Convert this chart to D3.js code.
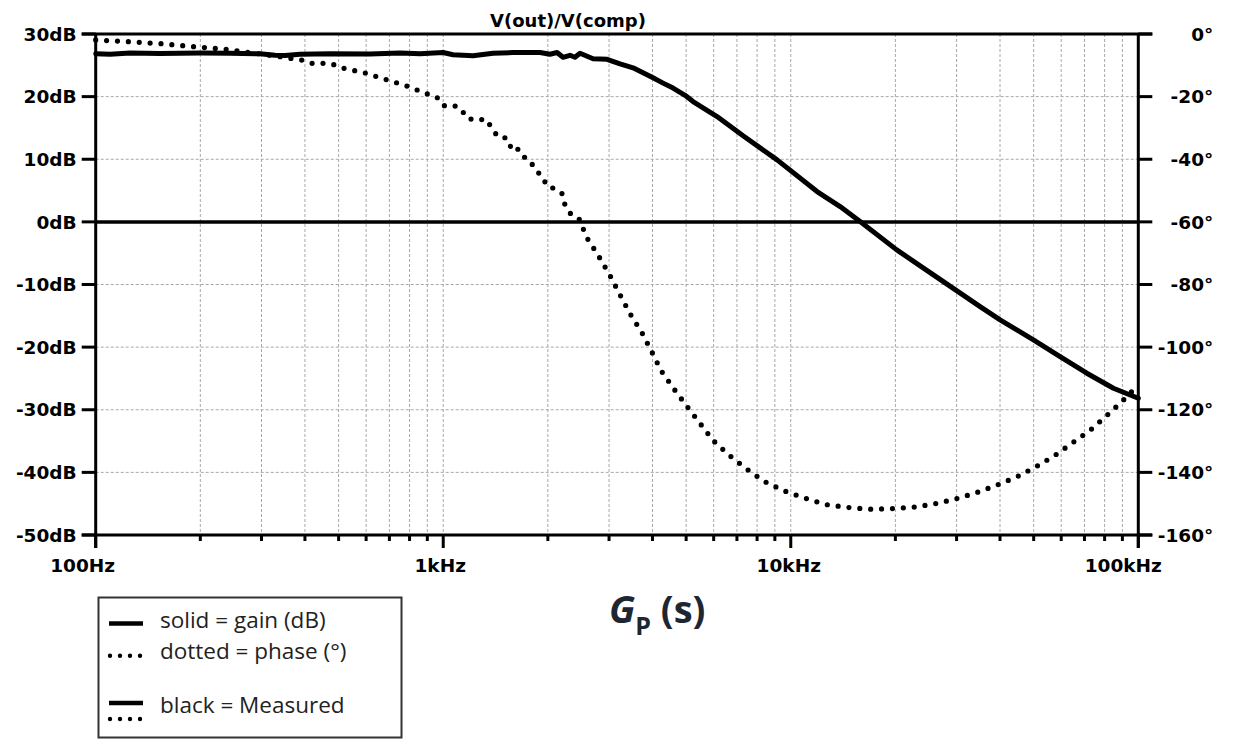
<!DOCTYPE html>
<html>
<head>
<meta charset="utf-8">
<script src="https://cdn.jsdelivr.net/npm/d3@7"></script>
<style>
  html, body { margin: 0; padding: 0; background: #fff; }
  svg { display: block; }
</style>
</head>
<body>
<svg id="chart" width="1234" height="748"></svg>
<script>
// Measured Bode response of Gp(s) = V(out)/V(comp)
const gainFreq = [100, 110, 125.5, 153.2, 199.6, 243.5, 297.1, 328.1, 350.6, 387.1, 472.4, 615.7, 751, 857.7, 998.7, 1067, 1218, 1391, 1588, 1899, 2029, 2126, 2211, 2316, 2394, 2475, 2698, 2961, 3226, 3517, 4015, 4291, 4585, 4964, 5234, 6136, 7290, 9134, 11905, 13870, 15830, 20180, 25730, 35060, 40030, 49910, 59550, 71100, 84800, 100000];
const gainDb = [26.84, 26.76, 26.95, 26.88, 26.95, 26.92, 26.84, 26.6, 26.57, 26.76, 26.84, 26.79, 26.95, 26.84, 27.04, 26.68, 26.52, 26.92, 27.04, 27.04, 26.76, 27.04, 26.28, 26.6, 26.28, 26.92, 26.04, 25.96, 25.24, 24.6, 23.0, 22.16, 21.36, 20.21, 19.22, 16.82, 13.74, 9.9, 4.84, 2.44, 0.05, -4.47, -8.47, -13.53, -15.65, -18.85, -21.52, -24.17, -26.57, -28.16];

const phaseFreq = [100, 124.5, 154.2, 191.4, 237.6, 339.2, 390.6, 419.4, 451, 485.1, 517.2, 592.9, 681.5, 781.6, 896.7, 957.8, 1003, 1069, 1125, 1168, 1241, 1326, 1379, 1435, 1523, 1567, 1620, 1674, 1774, 1837, 1929, 1990, 2112, 2198, 2237, 2321, 2454, 2593, 2803, 3014, 3221, 3448, 3726, 3981, 4242, 4615, 5020, 5483, 5988, 6657, 7451, 8380, 9548, 10973, 12610, 14500, 16800, 19400, 22440, 25850, 29770, 34150, 39150, 44720, 50800, 57500, 64800, 72800, 81200, 90250, 100000];
const phaseDeg = [-1.9, -2.46, -3.1, -4.06, -4.89, -7.25, -8.3, -9.36, -9.36, -9.8, -10.95, -12.36, -14.47, -16.51, -19.07, -20.12, -22.9, -22.77, -23.86, -26.83, -27.56, -27.15, -29.93, -32.8, -33.22, -36.31, -35.68, -38.74, -40.24, -43.21, -45.58, -48.64, -49.5, -51.0, -54.3, -57.27, -58.77, -65.15, -71.0, -76.97, -83.14, -89.33, -95.27, -101.47, -107.63, -113.38, -118.81, -124.34, -129.89, -134.56, -138.84, -142.86, -145.86, -148.2, -150.27, -151.17, -151.77, -151.6, -151.17, -150.1, -148.5, -146.5, -144.1, -141.4, -138.2, -134.6, -130.5, -126.5, -121.8, -117.1, -112.1];

const gainTicks = [30, 20, 10, 0, -10, -20, -30, -40, -50];
const gainTickLabels = ["30dB", "20dB", "10dB", "0dB", "-10dB", "-20dB", "-30dB", "-40dB", "-50dB"];
const phaseTicks = [0, -20, -40, -60, -80, -100, -120, -140, -160];
const phaseTickLabels = ["0°", "-20°", "-40°", "-60°", "-80°", "-100°", "-120°", "-140°", "-160°"];
const freqTicks = [100, 1000, 10000, 100000];
const freqTickLabels = ["100Hz", "1kHz", "10kHz", "100kHz"];
const freqLabelShift = [-13, -3, -2, -15];

const legendItems = ["solid = gain (dB)", "dotted = phase (°)", "black = Measured"];

const svg = d3.select("#chart");
const plotLeft = 95.7, plotRight = 1138.3, plotTop = 34, plotBottom = 535;

const x = d3.scaleLog().domain([100, 100000]).range([plotLeft, plotRight]);
const yG = d3.scaleLinear().domain([-50, 30]).range([plotBottom, plotTop]);
const yP = d3.scaleLinear().domain([-160, 0]).range([plotBottom, plotTop]);

const labelFont = "'DejaVu Sans', sans-serif";

// minor grid (every 1..9 per decade) and dB grid
const minorFreqs = [];
for (let dec = 100; dec < 100000; dec *= 10) {
  for (let m = 1; m <= 9; m++) minorFreqs.push(dec * m);
}
const grid = svg.append("g").attr("stroke", "#a8a8a8").attr("stroke-width", 1)
  .attr("stroke-dasharray", "3,2").attr("fill", "none");
grid.selectAll("line.v").data(minorFreqs.filter(f => f > 100)).join("line")
  .attr("x1", d => x(d)).attr("x2", d => x(d)).attr("y1", plotTop).attr("y2", plotBottom);
grid.selectAll("line.h").data(gainTicks.filter(d => d < 30 && d > -50 && d !== 0)).join("line")
  .attr("x1", plotLeft).attr("x2", plotRight).attr("y1", d => yG(d)).attr("y2", d => yG(d));

// frame
const frame = svg.append("g").attr("stroke", "#000").attr("stroke-width", 3).attr("fill", "none");
frame.append("line").attr("x1", plotLeft - 14).attr("x2", plotRight + 14).attr("y1", plotTop).attr("y2", plotTop);
frame.append("line").attr("x1", plotLeft - 14).attr("x2", plotRight + 14).attr("y1", plotBottom).attr("y2", plotBottom);
frame.append("line").attr("x1", plotLeft).attr("x2", plotLeft).attr("y1", plotTop).attr("y2", plotBottom + 13);
frame.append("line").attr("x1", plotRight).attr("x2", plotRight).attr("y1", plotTop).attr("y2", plotBottom + 13);

// axis ticks
const axisG = svg.append("g").attr("stroke", "#000").attr("stroke-width", 3);
axisG.selectAll("line.l").data(gainTicks).join("line")
  .attr("x1", plotLeft - 14).attr("x2", plotLeft).attr("y1", d => yG(d)).attr("y2", d => yG(d));
axisG.selectAll("line.r").data(phaseTicks).join("line")
  .attr("x1", plotRight).attr("x2", plotRight + 14).attr("y1", d => yP(d)).attr("y2", d => yP(d));
axisG.selectAll("line.b").data(minorFreqs.concat([100000])).join("line")
  .attr("x1", d => x(d)).attr("x2", d => x(d)).attr("y1", plotBottom)
  .attr("y2", d => (Math.abs(Math.log10(d) % 1) < 1e-9 ? plotBottom + 13 : plotBottom + 6));

// tick labels
const tl = svg.append("g").attr("font-family", labelFont).attr("font-weight", "bold")
  .attr("font-size", 18.5).attr("fill", "#000");
tl.selectAll("text.l").data(gainTicks).join("text")
  .attr("x", plotLeft - 19).attr("y", d => yG(d)).attr("dy", "0.36em")
  .attr("text-anchor", "end").text((d, i) => gainTickLabels[i]);
tl.selectAll("text.r").data(phaseTicks).join("text")
  .attr("x", plotRight + 75).attr("y", d => yP(d)).attr("dy", "0.36em")
  .attr("text-anchor", "end").text((d, i) => phaseTickLabels[i]);
tl.selectAll("text.b").data(freqTicks).join("text")
  .attr("x", (d, i) => x(d) + freqLabelShift[i]).attr("y", 572)
  .attr("text-anchor", "middle").text((d, i) => freqTickLabels[i]);

// title
svg.append("text").attr("x", 568).attr("y", 27).attr("text-anchor", "middle")
  .attr("font-family", labelFont).attr("font-weight", "bold").attr("font-size", 18)
  .text("V(out)/V(comp)");

// 0 dB reference
svg.append("line").attr("x1", plotLeft).attr("x2", plotRight).attr("y1", yG(0)).attr("y2", yG(0))
  .attr("stroke", "#000").attr("stroke-width", 3.5);

// gain curve
const gainLine = d3.line().x(d => x(d[0])).y(d => yG(d[1]));
svg.append("path").datum(gainFreq.map((f, i) => [f, gainDb[i]]))
  .attr("d", gainLine).attr("fill", "none").attr("stroke", "#000")
  .attr("stroke-width", 5).attr("stroke-linejoin", "round").attr("stroke-linecap", "round");

// phase curve (dotted)
const phaseLine = d3.line().x(d => x(d[0])).y(d => yP(d[1]));
svg.append("path").datum(phaseFreq.map((f, i) => [f, phaseDeg[i]]))
  .attr("d", phaseLine).attr("fill", "none").attr("stroke", "#000")
  .attr("stroke-width", 5.2).attr("stroke-linecap", "round")
  .attr("stroke-dasharray", "0 10.9");

// legend
const lg = svg.append("g");
lg.append("rect").attr("x", 98.5).attr("y", 597.5).attr("width", 303).attr("height", 140)
  .attr("fill", "#fff").attr("stroke", "#333").attr("stroke-width", 2);
const solid = (yy) => lg.append("line").attr("x1", 109).attr("x2", 143).attr("y1", yy).attr("y2", yy)
  .attr("stroke", "#000").attr("stroke-width", 4.5);
const dotted = (yy) => lg.append("line").attr("x1", 110).attr("x2", 141).attr("y1", yy).attr("y2", yy)
  .attr("stroke", "#000").attr("stroke-width", 4.4).attr("stroke-linecap", "round")
  .attr("stroke-dasharray", "0 10");
solid(623.5);
dotted(655.7);
solid(703);
dotted(719);
const legendY = [628, 659, 713];
lg.selectAll("text").data(legendItems).join("text")
  .attr("x", 160).attr("y", (d, i) => legendY[i])
  .attr("font-family", "'Open Sans', sans-serif").attr("font-size", 22.5).attr("fill", "#222")
  .text(d => d);

// transfer function name
const gp = svg.append("text").attr("x", 609).attr("y", 623)
  .attr("font-family", "'Open Sans', sans-serif").attr("font-weight", "bold")
  .attr("fill", "#1d2631");
gp.append("tspan").attr("font-size", 38).attr("font-style", "italic").text("G");
gp.append("tspan").attr("font-size", 25).attr("dy", 12).text("P");
gp.append("tspan").attr("font-size", 38).attr("dy", -12).text(" (s)");
</script>
</body>
</html>
